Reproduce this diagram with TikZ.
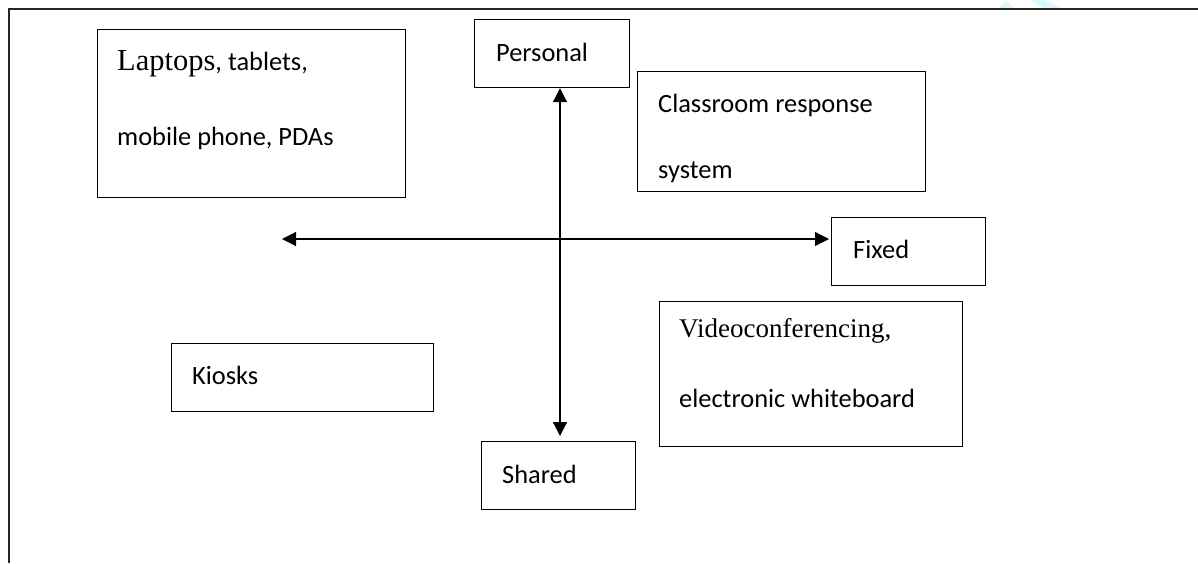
\documentclass[tikz,border=0pt]{standalone}
\usepackage{fontspec}
\setmainfont{Carlito}
\newfontfamily\timesfont{Liberation Serif}
\usetikzlibrary{arrows.meta}

\tikzset{
  box/.style={draw=black, line width=1.2pt, rectangle, inner sep=0pt, anchor=north west},
  lbl/.style={anchor=base west, inner sep=0pt, font=\normalfont\fontsize{26.4}{30}\selectfont},
  serif/.style={anchor=base west, inner sep=0pt, font=\timesfont\fontsize{27}{30}\selectfont},
  frameline/.style={draw=black!85, line width=1.3pt},
  axis/.style={draw=black, line width=1.2pt, {Triangle[length=14pt,width=14pt]}-{Triangle[length=14pt,width=14pt]}},
  mark blue/.style={fill=blue!20!cyan!15!white, draw=none}
}

\begin{document}
\begin{tikzpicture}[x=1pt, y=-1pt]
  \useasboundingbox (0,0) rectangle (1198,563);

  % faint logo strokes at the top edge
  \fill[mark blue] (997,9) -- (1006,1) -- (1016,9) -- cycle;
  \fill[mark blue] (1030,0) -- (1046,0) -- (1062,9) -- (1045,9) -- cycle;

  % page frame (top and left edges)
  \draw[frameline] (1198,9) -- (9,9) -- (9,563);

  % boxes
  \node[box, minimum width=308pt, minimum height=168pt] (lap)   at (97,29)  {};
  \node[box, minimum width=155pt, minimum height=68pt]  (pers)  at (474,19) {};
  \node[box, minimum width=288pt, minimum height=120pt] (crs)   at (637,71) {};
  \node[box, minimum width=154pt, minimum height=68pt]  (fixed) at (831,217) {};
  \node[box, minimum width=303pt, minimum height=145pt] (video) at (659,301) {};
  \node[box, minimum width=262pt, minimum height=68pt]  (kiosk) at (171,343) {};
  \node[box, minimum width=154pt, minimum height=68pt]  (shared) at (481,441) {};

  % box texts
  \node[lbl] (lapA) at (117,70) {{\timesfont\fontsize{30.5}{34}\selectfont Laptops}, tablets,};
  \node[lbl] (lapC) at (117,145) {mobile phone, PDAs};
  \node[lbl] (persT) at (496,61) {Personal};
  \node[lbl] (crsA) at (658,112) {Classroom response};
  \node[lbl] (crsB) at (658,178) {system};
  \node[lbl] (fixT) at (853,258) {Fixed};
  \node[serif] (vidA) at (679,337) {Videoconferencing,};
  \node[lbl] (vidB) at (679,407) {electronic whiteboard};
  \node[lbl] (kioT) at (192,384) {Kiosks};
  \node[lbl] (shaT) at (502,483) {Shared};

  % axes
  \coordinate (hl) at (282,239);
  \coordinate (vx) at (560,239);
  \draw[axis, shorten >=2pt] (hl) -- (hl -| fixed.west);
  \draw[axis, shorten >=5pt] (vx |- pers.south) -- (vx |- shared.north);
\end{tikzpicture}
\end{document}
